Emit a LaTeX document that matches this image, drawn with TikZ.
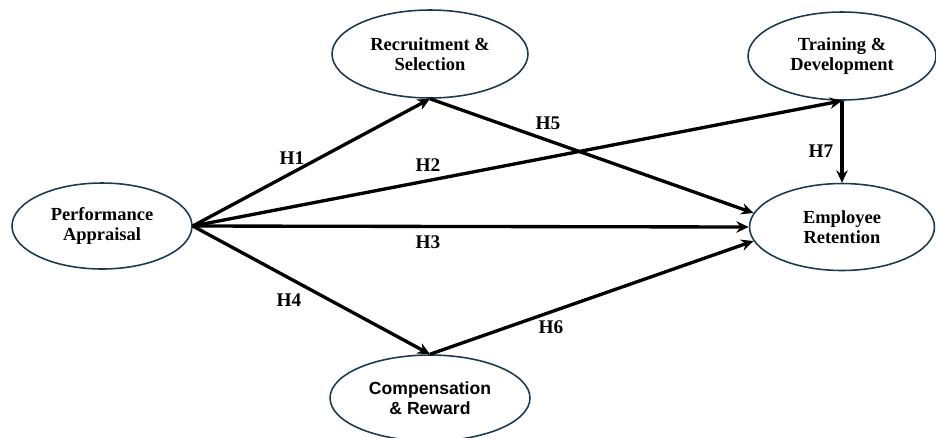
\documentclass[tikz,border=0pt]{standalone}
\usepackage{fontspec}
\setmainfont{Liberation Serif}
\setsansfont{Liberation Sans}
\definecolor{rim}{HTML}{1C3A4E}
\tikzset{
  var/.style={ellipse,draw=rim,line width=0.9pt,minimum width=#1,align=center,
    font=\fontsize{10.5}{11.5}\selectfont\bfseries,inner sep=0pt},
  var/.default=3.7cm,
  path/.style={-{Stealth[length=7pt,width=6.5pt]},line width=1.9pt},
  hyp/.style={font=\fontsize{11}{12}\selectfont\bfseries}
}
\usetikzlibrary{shapes.geometric,arrows.meta}
\begin{document}
\begin{tikzpicture}[x=0.02cm,y=-0.02cm]
            \useasboundingbox (0,0) rectangle (936,437);
            \node[var=3.6cm,minimum height=1.72cm] (pa) at (102,226) {Performance\\Appraisal};
            \node[var=3.92cm,minimum height=1.76cm] (rs) at (430,54) {Recruitment \&\\Selection};
            \node[var=3.76cm,minimum height=1.76cm] (td) at (842,56) {Training \&\\Development};
            \node[var=3.7cm,minimum height=1.74cm] (er) at (842,227) {Employee\\Retention};
            \node[var=4cm,minimum height=1.72cm,font=\fontsize{10}{11.5}\selectfont\sffamily\bfseries] (cr) at (430,398) {Compensation\\\& Reward};
            \draw[path] (pa.east)--(rs.south) node[hyp] at (292,158){H1};
            \draw[path] (pa.east)--(td.south) node[hyp] at (428,165){H2};
            \draw[path] (pa.east)--(er.west) node[hyp] at (428,242){H3};
            \draw[path] (pa.east)--(cr.north) node[hyp] at (289,300){H4};
            \draw[path] (rs.south)--(er.171) node[hyp] at (548,123){H5};
            \draw[path] (cr.north)--(er.189) node[hyp] at (551,327){H6};
            \draw[path] (td.south)--(er.north) node[hyp] at (821,151){H7};
        \end{tikzpicture}
\end{document}
